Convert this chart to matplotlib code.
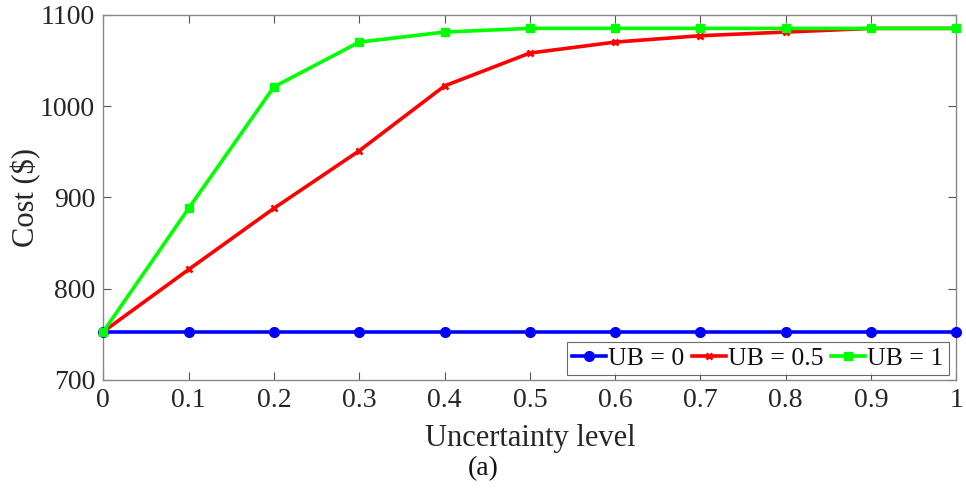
import matplotlib
matplotlib.use("Agg")
import matplotlib.pyplot as plt

# uncertainty level vs cost
levels = [0, 0.1, 0.2, 0.3, 0.4, 0.5, 0.6, 0.7, 0.8, 0.9, 1.0]
cost_ub0 = [753] * 11
cost_ub05 = [753, 821, 888, 951, 1022, 1058, 1070, 1077, 1081, 1085, 1085]
cost_ub1 = [753, 888, 1021, 1070, 1081, 1085, 1085, 1085, 1085, 1085, 1085]
xticks = [0, 0.1, 0.2, 0.3, 0.4, 0.5, 0.6, 0.7, 0.8, 0.9, 1]
xticklabels = ["0", "0.1", "0.2", "0.3", "0.4", "0.5", "0.6", "0.7", "0.8", "0.9", "1"]
yticks = [700, 800, 900, 1000, 1100]

plt.rcParams["font.family"] = ["Liberation Serif", "DejaVu Serif"]

fig = plt.figure(figsize=(9.66, 4.9), dpi=100)
ax = fig.add_axes([0.107, 0.2245, 0.883, 0.7455])

ax.plot(levels, cost_ub0, color="#0000ff", lw=2.6, marker="o", ms=7, clip_on=False, zorder=3, label="UB = 0")
ax.plot(levels, cost_ub05, color="#ff0000", lw=2.6, marker="x", ms=5, mew=2, clip_on=False, zorder=4, label="UB = 0.5")
ax.plot(levels, cost_ub1, color="#00ff00", lw=2.6, marker="s", ms=6, clip_on=False, zorder=5, label="UB = 1")

ax.set_xlim(0, 1)
ax.set_ylim(700, 1100)
ax.set_xticks(xticks)
ax.set_xticklabels(xticklabels)
ax.set_yticks(yticks)
ax.tick_params(direction="in", top=True, right=True, length=6, width=0.8,
               color="#555555", labelsize=20, labelcolor="#262626", pad=6)
for s in ax.spines.values():
    s.set_color("#888888")
    s.set_linewidth(1.0)

ax.set_ylabel("Cost ($)", fontsize=22, color="#262626")
ax.yaxis.set_label_coords(-0.073, 0.5)
ax.set_xlabel("Uncertainty level", fontsize=22, color="#262626", labelpad=8)
fig.text(0.5, 0.043, "(a)", ha="center", va="center", fontsize=20, color="#111111")

leg = ax.legend(loc="lower right", ncol=3, fontsize=18.5, frameon=True, fancybox=False,
                handlelength=1.3, handletextpad=0.1, columnspacing=0.3,
                borderpad=0.2, borderaxespad=0.2, bbox_to_anchor=(0.997, 0.0))
leg.get_frame().set_edgecolor("#444444")
leg.get_frame().set_linewidth(0.8)
for t in leg.get_texts():
    t.set_color("#111111")

fig.savefig("out.png", dpi=100)
